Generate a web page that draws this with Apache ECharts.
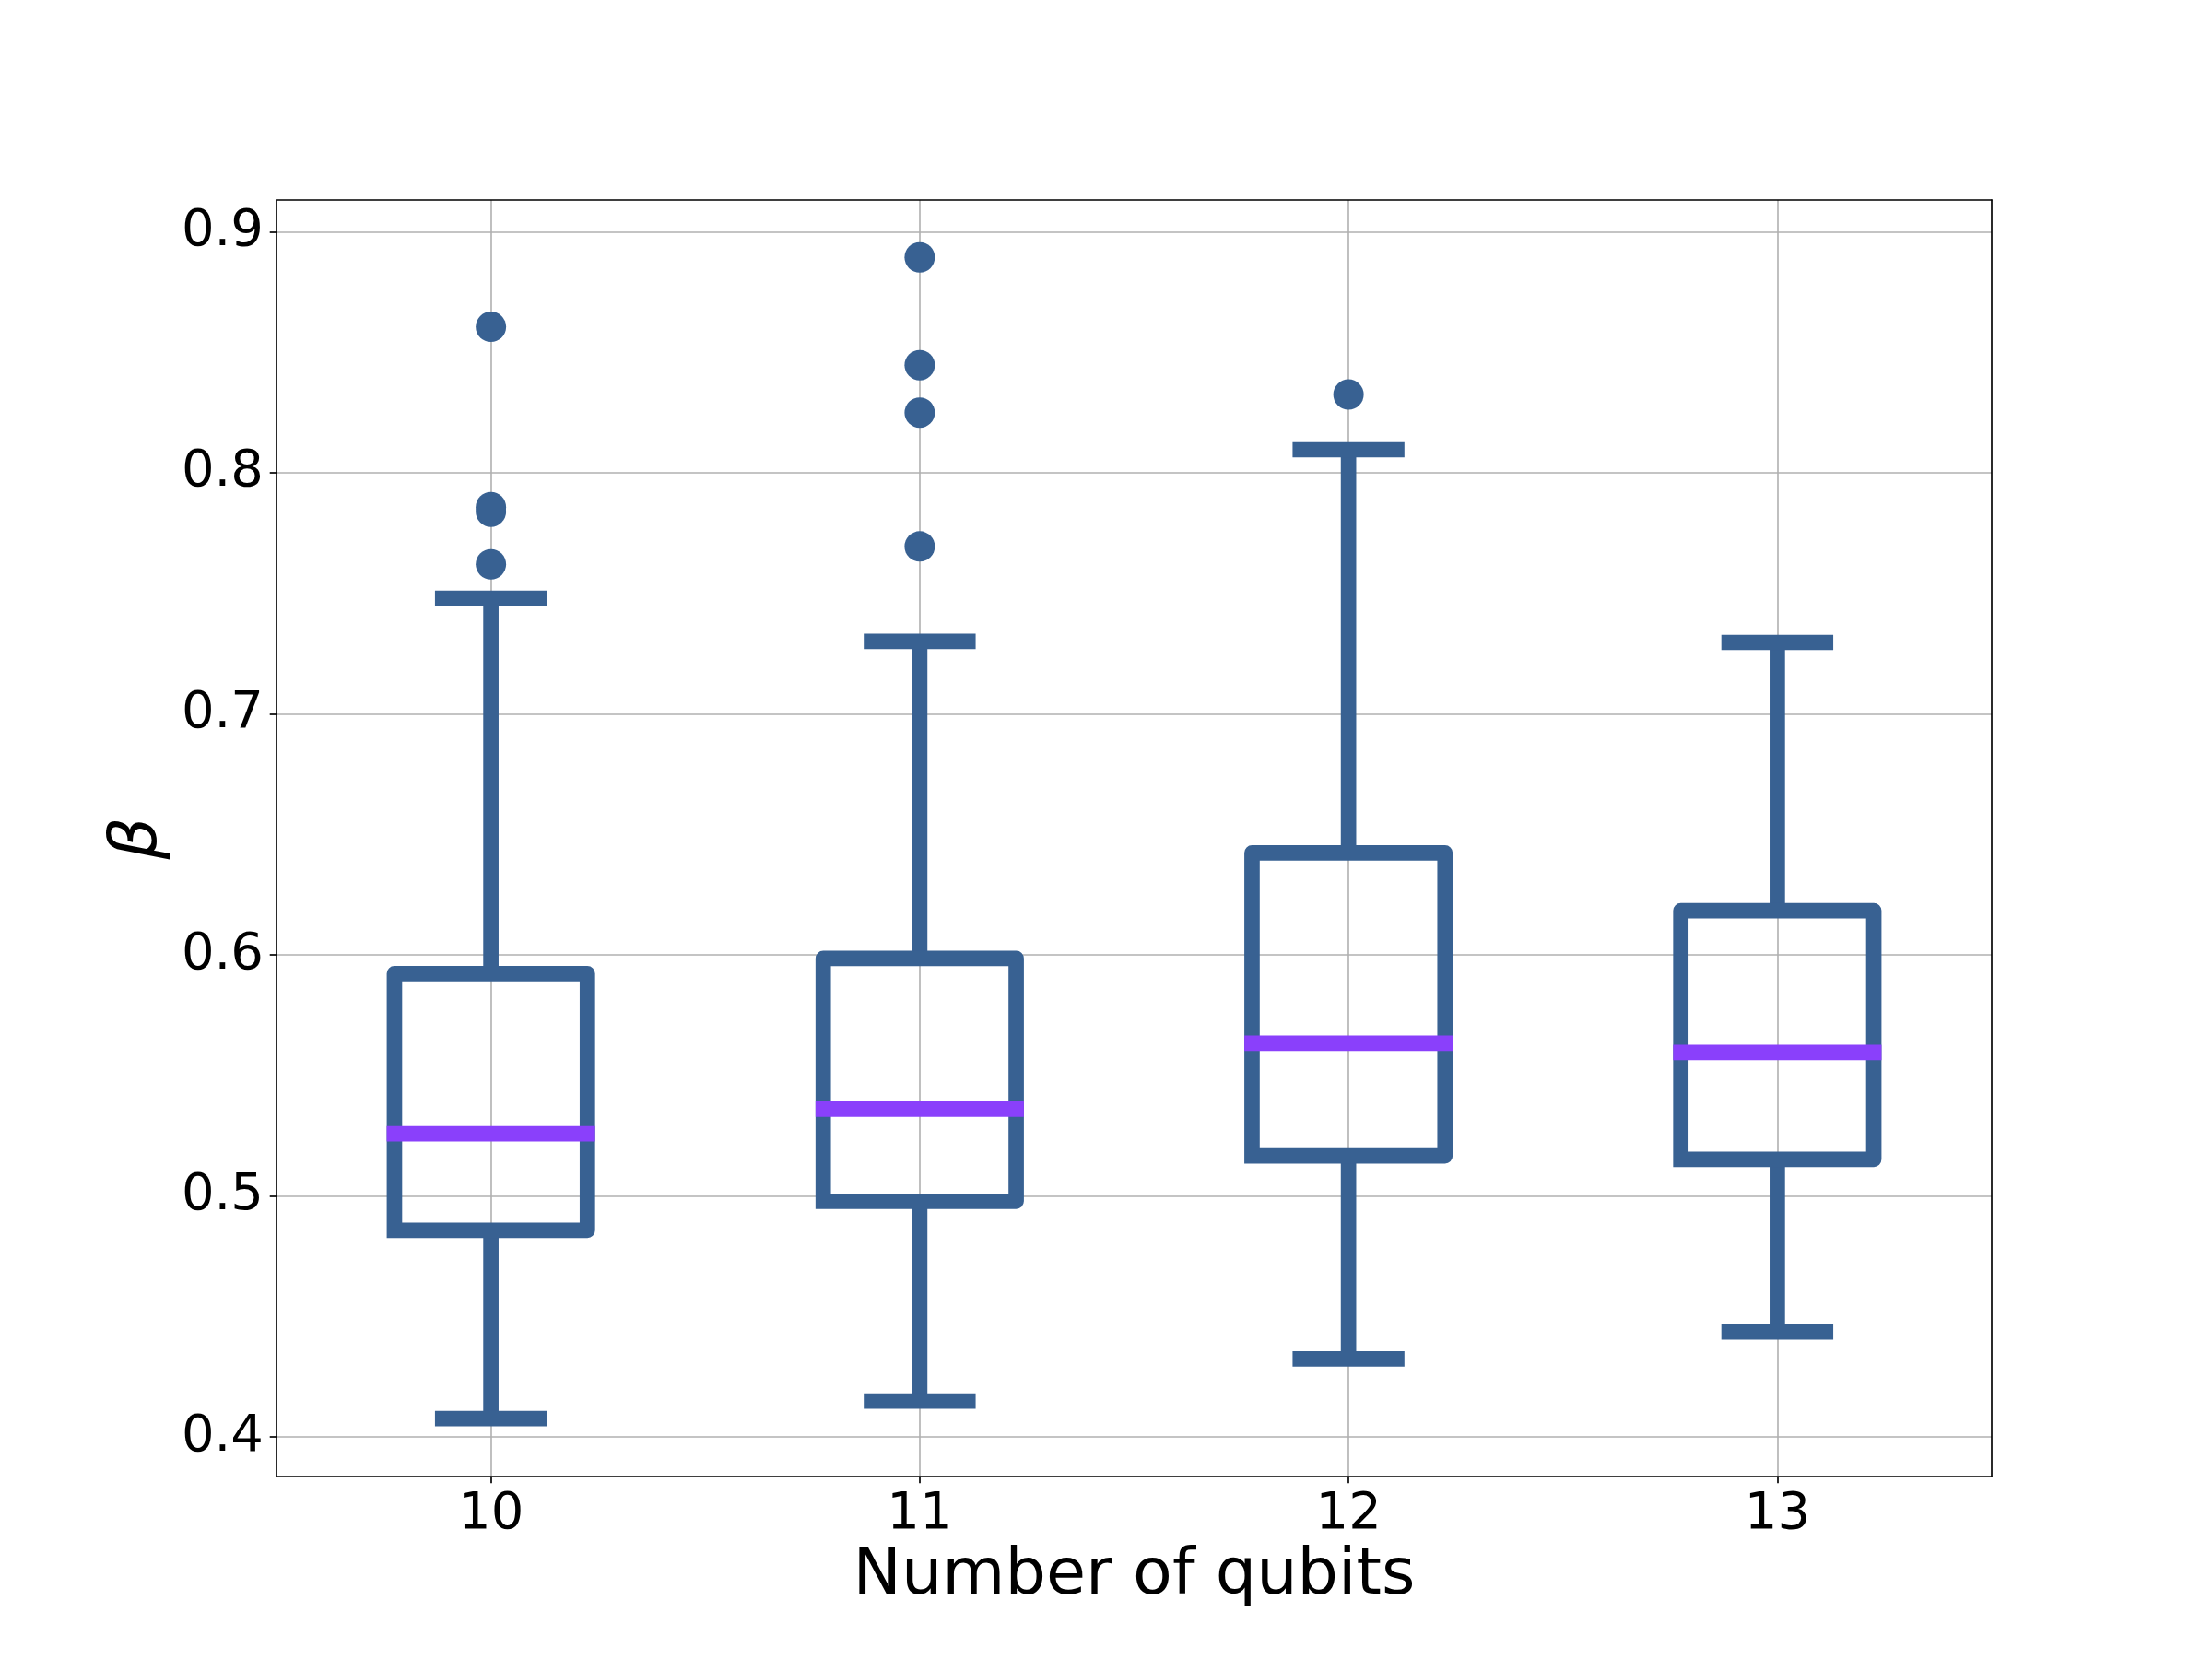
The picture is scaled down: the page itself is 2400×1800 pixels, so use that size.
<!DOCTYPE html>
<html>
<head>
<meta charset="utf-8">
<script src="https://cdn.jsdelivr.net/npm/echarts@6/dist/echarts.min.js"></script>
<style>
  html, body { margin: 0; padding: 0; background: #ffffff; }
  #chart { width: 2400px; height: 1800px; }
</style>
</head>
<body>
<div id="chart"></div>
<script>
// ---- data ----
const qubits      = [10, 11, 12, 13];
const whiskerLow  = [0.4076, 0.4149, 0.4324, 0.4436];
const q1          = [0.4857, 0.4978, 0.5166, 0.5152];
const median      = [0.5258, 0.5360, 0.5633, 0.5595];
const q3          = [0.5922, 0.5985, 0.6423, 0.6183];
const whiskerHigh = [0.7479, 0.7300, 0.8095, 0.7296];
const outliers10  = [0.8605, 0.7857, 0.7838, 0.7620];
const outliers11  = [0.8893, 0.8446, 0.8249, 0.7694];
const outliers12  = [0.8324];
const outliers13  = [];
const xTicks      = [10, 11, 12, 13];
const yTicks      = [0.4, 0.5, 0.6, 0.7, 0.8, 0.9];
const xLabel      = 'Number of qubits';
const yLabel      = 'β';

// ---- styling ----
const BOX_COLOR = '#386192';
const MED_COLOR = '#8a40fb';
const LW = 16.7;
const BOX_WIDTH = 0.45; // data units
const FONT = 'DejaVu Sans';

const boxData = qubits.map((q, i) => [q, whiskerLow[i], q1[i], median[i], q3[i], whiskerHigh[i]]);
const outlierSets = [outliers10, outliers11, outliers12, outliers13];
const outlierData = [];
qubits.forEach((q, i) => outlierSets[i].forEach(v => outlierData.push([q, v])));

function renderBox(params, api) {
  const x = api.value(0);
  const lo = api.coord([x, api.value(1)]);
  const b1 = api.coord([x, api.value(2)]);
  const md = api.coord([x, api.value(3)]);
  const b3 = api.coord([x, api.value(4)]);
  const hi = api.coord([x, api.value(5)]);
  const cx = lo[0];
  const halfW = api.size([BOX_WIDTH, 0])[0] / 2;
  const capHalf = halfW / 2;
  const lineStyle = { stroke: BOX_COLOR, lineWidth: LW, fill: null };
  return {
    type: 'group',
    children: [
      { type: 'line', shape: { x1: cx, y1: b1[1], x2: cx, y2: lo[1] }, style: Object.assign({ lineCap: 'butt' }, lineStyle) },
      { type: 'line', shape: { x1: cx, y1: b3[1], x2: cx, y2: hi[1] }, style: Object.assign({ lineCap: 'butt' }, lineStyle) },
      { type: 'line', shape: { x1: cx - capHalf, y1: lo[1], x2: cx + capHalf, y2: lo[1] }, style: Object.assign({ lineCap: 'square' }, lineStyle) },
      { type: 'line', shape: { x1: cx - capHalf, y1: hi[1], x2: cx + capHalf, y2: hi[1] }, style: Object.assign({ lineCap: 'square' }, lineStyle) },
      { type: 'polyline', shape: { points: [
          [cx - halfW, b1[1]], [cx + halfW, b1[1]], [cx + halfW, b3[1]], [cx - halfW, b3[1]], [cx - halfW, b1[1]]
        ] }, style: { stroke: BOX_COLOR, lineWidth: LW, fill: null, lineJoin: 'round', lineCap: 'square' } },
      { type: 'line', shape: { x1: cx - halfW, y1: md[1], x2: cx + halfW, y2: md[1] },
        style: { stroke: MED_COLOR, lineWidth: LW, lineCap: 'square' } }
    ]
  };
}

const chart = echarts.init(document.getElementById('chart'), null, { renderer: 'canvas' });

const axisLineStyle = { color: '#000000', width: 1.67 };
const gridLineStyle = { color: '#b0b0b0', width: 1.6 };

chart.setOption({
  backgroundColor: '#ffffff',
  animation: false,
  grid: { left: 300, top: 217, width: 1861, height: 1385, containLabel: false },
  xAxis: [
    {
      type: 'value', min: 9.5, max: 13.5, position: 'bottom',
      name: xLabel, nameLocation: 'middle', nameGap: 56,
      nameTextStyle: { fontFamily: FONT, fontSize: 70, color: '#000000' },
      axisLine: { show: true, onZero: false, lineStyle: axisLineStyle },
      axisTick: { show: true, inside: false, length: 7.3, customValues: xTicks, lineStyle: axisLineStyle },
      axisLabel: { show: true, customValues: xTicks, margin: 13, fontFamily: FONT, fontSize: 56, color: '#000000' },
      splitLine: { show: true, lineStyle: gridLineStyle }
    },
    {
      type: 'value', min: 9.5, max: 13.5, position: 'top',
      axisLine: { show: true, onZero: false, lineStyle: axisLineStyle },
      axisTick: { show: false }, axisLabel: { show: false }, splitLine: { show: false }
    }
  ],
  yAxis: [
    {
      type: 'value', min: 0.3836, max: 0.9131, position: 'left',
      name: yLabel, nameLocation: 'middle', nameGap: 93, nameRotate: 90,
      nameTextStyle: { fontFamily: FONT, fontSize: 72, fontStyle: 'italic', color: '#000000' },
      axisLine: { show: true, onZero: false, lineStyle: axisLineStyle },
      axisTick: { show: true, inside: false, length: 7.3, customValues: yTicks, lineStyle: axisLineStyle },
      axisLabel: { show: true, customValues: yTicks, margin: 14, fontFamily: FONT, fontSize: 56, color: '#000000',
                   formatter: v => Number(v).toFixed(1) },
      splitLine: { show: true, lineStyle: gridLineStyle }
    },
    {
      type: 'value', min: 0.3836, max: 0.9131, position: 'right',
      axisLine: { show: true, onZero: false, lineStyle: axisLineStyle },
      axisTick: { show: false }, axisLabel: { show: false }, splitLine: { show: false }
    }
  ],
  series: [
    {
      type: 'custom', xAxisIndex: 0, yAxisIndex: 0,
      renderItem: renderBox,
      encode: { x: 0, y: [1, 2, 3, 4, 5] },
      data: boxData, z: 3, clip: false
    },
    {
      type: 'scatter', xAxisIndex: 0, yAxisIndex: 0,
      data: outlierData, symbol: 'circle', symbolSize: 33,
      itemStyle: { color: BOX_COLOR, opacity: 1 }, z: 4
    }
  ]
});
</script>
</body>
</html>
